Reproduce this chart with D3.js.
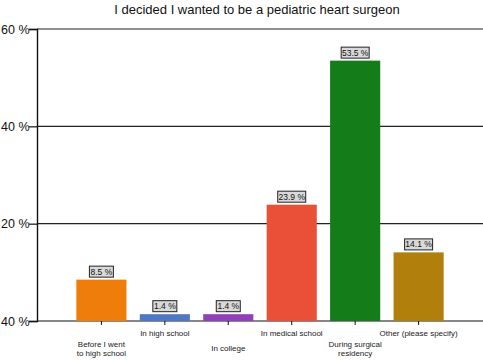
<!DOCTYPE html>
<html>
<head>
<meta charset="utf-8">
<script src="https://cdnjs.cloudflare.com/ajax/libs/d3/7.8.5/d3.min.js"></script>
<style>
  body { margin: 0; background: #fff; }
  svg { font-family: "Liberation Sans", Arial, sans-serif; }
</style>
</head>
<body>
<svg width="483" height="362"></svg>
<script>
var categories = [
  ["Before I went", "to high school"],
  ["In high school"],
  ["In college"],
  ["In medical school"],
  ["During surgical", "residency"],
  ["Other (please specify)"]
];
var values = [8.5, 1.4, 1.4, 23.9, 53.5, 14.1];
var colors = ["#ee7d0c", "#4f78c4", "#9040b8", "#ea5038", "#147c18", "#b07f0c"];
var tickValues = [0, 20, 40, 60];
var tickLabels = ["40 %", "20 %", "40 %", "60 %"];
var title = "I decided I wanted to be a pediatric heart surgeon";

var svg = d3.select("svg"),
    margin = {top: 29, right: 0, bottom: 41, left: 37},
    width = +svg.attr("width") - margin.left - margin.right,
    height = +svg.attr("height") - margin.top - margin.bottom;

var x = d3.scaleBand()
    .domain(d3.range(categories.length))
    .range([0, width])
    .paddingInner(0.21)
    .paddingOuter(0.62);

var y = d3.scaleLinear().domain([0, 60]).range([height, 0]);

svg.append("text")
    .attr("x", 257)
    .attr("y", 14)
    .attr("text-anchor", "middle")
    .attr("font-size", 13)
    .attr("fill", "#111")
    .text(title);

var g = svg.append("g")
    .attr("transform", "translate(" + margin.left + "," + margin.top + ")");

// grid lines
g.selectAll(".grid")
  .data(tickValues.slice(1))
  .enter().append("line")
    .attr("x1", 0)
    .attr("x2", width)
    .attr("y1", function(d) { return y(d); })
    .attr("y2", function(d) { return y(d); })
    .attr("stroke", "#222")
    .attr("stroke-width", 1.2);

// y axis
var yAxis = g.append("g")
    .call(d3.axisLeft(y).tickValues(tickValues).tickSize(8)
      .tickFormat(function(d, i) { return tickLabels[i]; }));
yAxis.select(".domain").attr("stroke", "#111").attr("stroke-width", 1.4);
yAxis.selectAll(".tick line").attr("stroke", "#111").attr("stroke-width", 1.2);
yAxis.selectAll(".tick text")
    .attr("font-size", 12.5)
    .attr("font-family", "Liberation Sans, Arial, sans-serif")
    .attr("fill", "#111")
    .attr("x", -7.5);

// x axis
var xAxis = g.append("g")
    .attr("transform", "translate(0," + height + ")")
    .call(d3.axisBottom(x).tickSize(4).tickSizeOuter(0).tickFormat(""));
xAxis.select(".domain").attr("stroke", "#111").attr("stroke-width", 1.2)
    .attr("d", "M0,0H" + width);
xAxis.selectAll(".tick line").attr("stroke", "#111");

// bars
g.selectAll(".bar")
  .data(values)
  .enter().append("rect")
    .attr("class", "bar")
    .attr("x", function(d, i) { return x(i); })
    .attr("y", function(d) { return y(d); })
    .attr("width", x.bandwidth())
    .attr("height", function(d) { return height - y(d); })
    .attr("fill", function(d, i) { return colors[i]; });

// value labels
var vl = g.selectAll(".vlabel")
  .data(values)
  .enter().append("g")
    .attr("class", "vlabel")
    .attr("transform", function(d, i) {
      return "translate(" + (x(i) + x.bandwidth() / 2) + "," + (y(d) - 8) + ")";
    });
vl.append("rect")
    .attr("x", function(d) { return d >= 10 ? -14 : -12; })
    .attr("y", -5.5)
    .attr("width", function(d) { return d >= 10 ? 28 : 24; })
    .attr("height", 11)
    .attr("fill", "#d9d9d9")
    .attr("stroke", "#222")
    .attr("stroke-width", 1);
vl.append("text")
    .attr("text-anchor", "middle")
    .attr("dy", "0.35em")
    .attr("font-size", 8.5)
    .attr("fill", "#111")
    .text(function(d) { return d.toFixed(1) + " %"; });

// category labels, staggered
var cl = g.selectAll(".clabel")
  .data(categories)
  .enter().append("text")
    .attr("class", "clabel")
    .attr("text-anchor", "middle")
    .attr("font-size", 8)
    .attr("fill", "#222")
    .attr("transform", function(d, i) {
      var cy = i % 2 === 1 ? 12.5 : 27 - (d.length - 1) * 4;
      return "translate(" + (x(i) + x.bandwidth() / 2) + "," + (height + cy) + ")";
    });
cl.selectAll("tspan")
  .data(function(d) { return d; })
  .enter().append("tspan")
    .attr("x", 0)
    .attr("dy", function(d, j) { return j === 0 ? "0.35em" : "1.2em"; })
    .text(function(d) { return d; });
</script>
</body>
</html>
